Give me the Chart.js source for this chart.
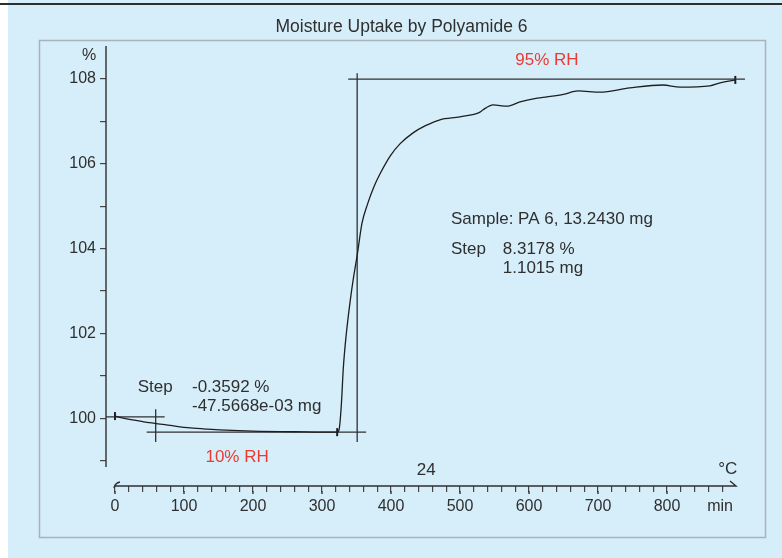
<!DOCTYPE html>
<html>
<head>
<meta charset="utf-8">
<script src="https://cdn.jsdelivr.net/npm/chart.js@4.4.1/dist/chart.umd.min.js"></script>
<style>
html, body { margin: 0; padding: 0; background: #fff; }
canvas { display: block; }
</style>
</head>
<body>
<canvas id="uptakeChart" width="782" height="558"></canvas>
<script>
// sorption curve: time (min) and sample mass (% of initial)
const timeMin = [0, 12, 40, 80, 109, 134, 170, 210, 260, 300, 322, 325, 328, 331, 335, 341, 346, 351, 358, 366,
                 375, 384, 399, 413, 432, 450, 471, 500, 529, 533, 548, 568, 587, 612, 626, 650, 671, 703, 746,
                 794, 819, 862, 877, 899];
const massPct = [100.05, 100.0, 99.92, 99.83, 99.77, 99.74, 99.71, 99.69, 99.68, 99.67, 99.67, 99.75, 100.3, 101.2,
                 101.95, 102.78, 103.35, 103.84, 104.6, 105.05, 105.45, 105.76, 106.19, 106.47, 106.73, 106.9,
                 107.04, 107.11, 107.22, 107.27, 107.39, 107.36, 107.46, 107.55, 107.58, 107.64, 107.72, 107.69,
                 107.79, 107.86, 107.81, 107.84, 107.91, 107.98];

// evaluation marks (start / end of each step)
const markerT = [0, 322, 899];
const markerPct = [100.05, 99.67, 107.98];

// step evaluation construction lines, [time, %] pairs
const evalLines = [
  [[-13, 100.03], [72, 100.03]],
  [[59, 99.44], [59, 100.21]],
  [[46, 99.67], [364, 99.67]],
  [[351, 99.44], [351, 108.14]],
  [[338, 108.0], [913, 108.0]]
];

// ticks
const xLabelled = [0, 100, 200, 300, 400, 500, 600, 700, 800];
const xTickValues = [];
for (let v = 0; v <= 880; v += 20) xTickValues.push(v);
const yTickValues = [99, 100, 101, 102, 103, 104, 105, 106, 107, 108];
const yLabelled = [100, 102, 104, 106, 108];

const RED = '#ec3a32';
const INK = '#2f2f2f';

const notes = [
  { text: '95% RH', t: 626, v: 108.45, align: 'center', color: RED },
  { text: '10% RH', t: 177, v: 99.08, align: 'center', color: RED },
  { text: 'Step', t: 33, v: 100.73, align: 'left', color: INK },
  { text: '-0.3592 %', t: 111.6, v: 100.73, align: 'left', color: INK },
  { text: '-47.5668e-03 mg', t: 111.6, v: 100.28, align: 'left', color: INK },
  { text: 'Sample: PA 6, 13.2430 mg', t: 487, v: 104.68, align: 'left', color: INK },
  { text: 'Step', t: 487, v: 103.98, align: 'left', color: INK },
  { text: '8.3178 %', t: 562, v: 103.98, align: 'left', color: INK },
  { text: '1.1015 mg', t: 562, v: 103.53, align: 'left', color: INK },
  { text: '24', t: 451, v: 98.78, align: 'center', color: INK },
  { text: '°C', t: 888, v: 98.80, align: 'center', color: INK }
];

Chart.defaults.font.family = '"Liberation Sans", Arial, sans-serif';

const backdrop = {
  id: 'backdrop',
  beforeDraw(chart) {
    const c = chart.ctx;
    c.save();
    c.fillStyle = '#ffffff';
    c.fillRect(0, 0, chart.width, chart.height);
    c.fillStyle = '#d6eefa';
    c.fillRect(8, 0, chart.width - 8, chart.height);
    c.fillStyle = '#2e2e2e';
    c.fillRect(0, 3, chart.width, 2);
    c.strokeStyle = '#a8b2b8';
    c.lineWidth = 1.5;
    c.strokeRect(39.5, 40.5, 726, 497);
    c.restore();
  },
  afterDraw(chart) {
    const { ctx: c, scales: { x, y }, chartArea: a } = chart;
    c.save();
    c.strokeStyle = INK;
    c.lineWidth = 1.4;
    // value axis
    c.beginPath();
    c.moveTo(a.left, a.top);
    c.lineTo(a.left, y.getPixelForValue(98.85));
    c.stroke();
    // time axis with hook and arrow
    const x0 = x.getPixelForValue(0), x1 = x.getPixelForValue(900);
    c.beginPath();
    c.moveTo(x0, a.bottom);
    c.lineTo(x1, a.bottom);
    c.lineTo(x1 - 6, a.bottom - 5);
    c.stroke();
    c.beginPath();
    c.moveTo(x0 - 1, a.bottom + 2);
    c.quadraticCurveTo(x0, a.bottom - 3, x0 + 5, a.bottom - 4);
    c.stroke();
    // majors a bit longer
    xLabelled.forEach(v => {
      const px = x.getPixelForValue(v);
      c.beginPath();
      c.moveTo(px, a.bottom + 5);
      c.lineTo(px, a.bottom + 8);
      c.stroke();
    });
    c.font = '17px "Liberation Sans", Arial, sans-serif';
    c.textBaseline = 'middle';
    notes.forEach(n => {
      c.fillStyle = n.color;
      c.textAlign = n.align;
      c.fillText(n.text, x.getPixelForValue(n.t), y.getPixelForValue(n.v));
    });
    c.font = '16px "Liberation Sans", Arial, sans-serif';
    c.fillStyle = INK;
    c.textAlign = 'center';
    c.fillText('%', a.left - 17, a.top + 10);
    c.fillText('min', x.getPixelForValue(877), a.bottom + 21);
    c.restore();
  }
};

new Chart(document.getElementById('uptakeChart'), {
  type: 'line',
  data: {
    datasets: [
      {
        data: timeMin.map((t, i) => ({ x: t, y: massPct[i] })),
        borderColor: '#1e1e1e',
        borderWidth: 1.3,
        pointRadius: 0,
        cubicInterpolationMode: 'monotone'
      },
      ...evalLines.map(seg => ({
        data: seg.map(([t, v]) => ({ x: t, y: v })),
        borderColor: INK,
        borderWidth: 1.3,
        pointRadius: 0
      })),
      {
        data: markerT.map((t, i) => ({ x: t, y: markerPct[i] })),
        showLine: false,
        pointStyle: 'line',
        rotation: 90,
        pointRadius: 4,
        borderColor: '#1e1e1e',
        borderWidth: 2
      }
    ]
  },
  options: {
    responsive: false,
    animation: false,
    devicePixelRatio: 1,
    layout: { padding: { left: 57, right: 36, top: 0, bottom: 0 } },
    plugins: {
      legend: { display: false },
      tooltip: { enabled: false },
      title: {
        display: true,
        text: 'Moisture Uptake by Polyamide 6',
        color: INK,
        font: { size: 17.5, weight: 'normal' },
        padding: { top: 17, bottom: 8 }
      }
    },
    scales: {
      x: {
        type: 'linear',
        min: -13,
        max: 914.5,
        border: { display: false },
        grid: { drawOnChartArea: false, tickLength: 6, color: '#444', lineWidth: 1.2 },
        afterBuildTicks: s => { s.ticks = xTickValues.map(v => ({ value: v })); },
        afterFit: s => { s.height = 72; },
        ticks: {
          autoSkip: false,
          maxRotation: 0,
          padding: 5,
          color: INK,
          font: { size: 16 },
          callback: v => xLabelled.includes(v) ? String(v) : ''
        }
      },
      y: {
        min: 98.4,
        max: 108.78,
        border: { display: false },
        grid: { drawOnChartArea: false, tickLength: 6, color: '#444', lineWidth: 1.2 },
        afterBuildTicks: s => { s.ticks = yTickValues.map(v => ({ value: v })); },
        afterFit: s => { s.width = 49; },
        ticks: {
          padding: 4,
          color: INK,
          font: { size: 16 },
          callback: v => yLabelled.includes(v) ? String(v) : ''
        }
      }
    }
  },
  plugins: [backdrop]
});
</script>
</body>
</html>
